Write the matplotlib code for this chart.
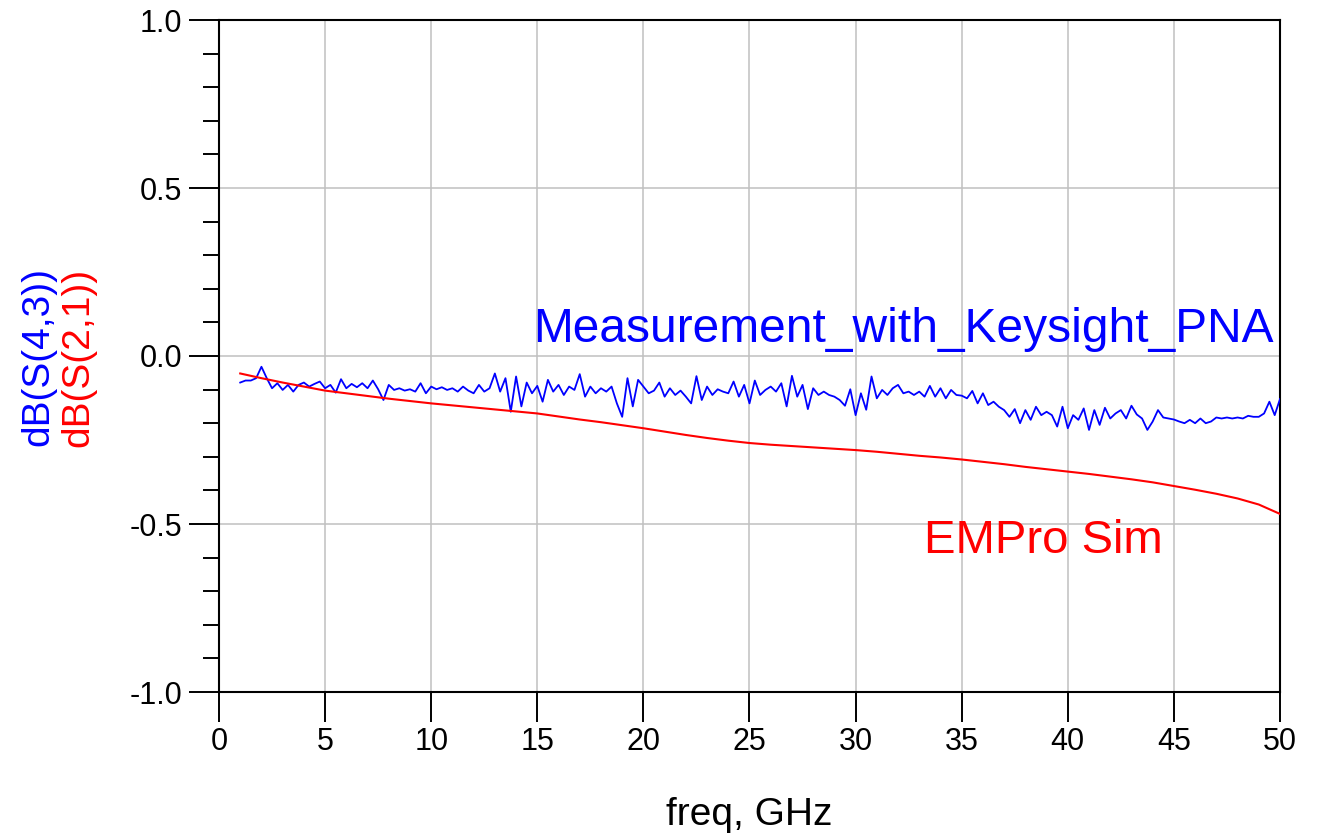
import numpy as np
import matplotlib
matplotlib.use("Agg")
import matplotlib.pyplot as plt
from matplotlib.ticker import MultipleLocator

plt.rcParams['font.family'] = ['Liberation Sans', 'DejaVu Sans']

# measured dB(S(4,3)), 1 .. 50 GHz, 0.25 GHz step
s43_db = [
    -0.079, -0.073, -0.073, -0.066, -0.032, -0.066, -0.096, -0.081,   # 1.0 - 2.75
    -0.101, -0.086, -0.106, -0.086, -0.079, -0.091, -0.083, -0.076,   # 3.0 - 4.75
    -0.096, -0.086, -0.109, -0.069, -0.096, -0.083, -0.093, -0.081,   # 5.0 - 6.75
    -0.096, -0.073, -0.099, -0.131, -0.086, -0.101, -0.096, -0.103,   # 7.0 - 8.75
    -0.099, -0.106, -0.081, -0.111, -0.091, -0.099, -0.093, -0.101,   # 9.0 - 10.75
    -0.096, -0.106, -0.091, -0.103, -0.111, -0.086, -0.106, -0.096,   # 11.0 - 12.75
    -0.052, -0.106, -0.066, -0.166, -0.061, -0.150, -0.079, -0.111,   # 13.0 - 14.75
    -0.089, -0.136, -0.071, -0.106, -0.086, -0.116, -0.091, -0.101,   # 15.0 - 16.75
    -0.054, -0.121, -0.091, -0.111, -0.096, -0.106, -0.091, -0.141,   # 17.0 - 18.75
    -0.181, -0.066, -0.150, -0.071, -0.091, -0.111, -0.103, -0.079,   # 19.0 - 20.75
    -0.121, -0.096, -0.116, -0.103, -0.121, -0.141, -0.060, -0.131,   # 21.0 - 22.75
    -0.091, -0.116, -0.099, -0.106, -0.111, -0.076, -0.121, -0.086,   # 23.0 - 24.75
    -0.141, -0.073, -0.116, -0.101, -0.091, -0.106, -0.081, -0.150,   # 25.0 - 26.75
    -0.059, -0.121, -0.086, -0.158, -0.096, -0.116, -0.106, -0.116,   # 27.0 - 28.75
    -0.121, -0.131, -0.148, -0.099, -0.176, -0.111, -0.160, -0.061,   # 29.0 - 30.75
    -0.126, -0.101, -0.116, -0.096, -0.086, -0.111, -0.106, -0.116,   # 31.0 - 32.75
    -0.106, -0.121, -0.089, -0.121, -0.096, -0.126, -0.101, -0.116,   # 33.0 - 34.75
    -0.118, -0.126, -0.104, -0.141, -0.111, -0.146, -0.136, -0.151,   # 35.0 - 36.75
    -0.161, -0.181, -0.158, -0.200, -0.161, -0.190, -0.151, -0.176,   # 37.0 - 38.75
    -0.166, -0.176, -0.210, -0.151, -0.215, -0.176, -0.190, -0.156,   # 39.0 - 40.75
    -0.220, -0.161, -0.205, -0.154, -0.186, -0.171, -0.161, -0.186,   # 41.0 - 42.75
    -0.148, -0.174, -0.186, -0.220, -0.195, -0.161, -0.183, -0.186,   # 43.0 - 44.75
    -0.189, -0.195, -0.200, -0.190, -0.200, -0.186, -0.200, -0.195,   # 45.0 - 46.75
    -0.183, -0.186, -0.183, -0.186, -0.183, -0.186, -0.178, -0.181,   # 47.0 - 48.75
    -0.181, -0.171, -0.136, -0.176, -0.128,                           # 49.0 - 50.0
]
freq_meas = np.linspace(1.0, 50.0, len(s43_db))

# EMPro simulated dB(S(2,1)), 1 GHz step
freq_sim = list(range(1, 51))
s21_db = [
    -0.052, -0.066, -0.079, -0.091, -0.103, -0.111, -0.119, -0.127, -0.134, -0.141,
    -0.147, -0.153, -0.159, -0.165, -0.171, -0.180, -0.189, -0.197, -0.206, -0.215,
    -0.225, -0.235, -0.244, -0.252, -0.259, -0.264, -0.268, -0.272, -0.276, -0.280,
    -0.285, -0.291, -0.297, -0.302, -0.308, -0.315, -0.322, -0.330, -0.337, -0.344,
    -0.351, -0.359, -0.367, -0.376, -0.387, -0.398, -0.410, -0.424, -0.442, -0.470,
]

W, H = 1319, 834
fig = plt.figure(figsize=(W / 100, H / 100), dpi=100)
ax = fig.add_axes([219 / W, 1 - 692 / H, (1280 - 219) / W, 672 / H])

ax.plot(freq_meas, s43_db, color='#0000ff', lw=1.3, zorder=3)
ax.plot(freq_sim, s21_db, color='#ff0000', lw=1.5, zorder=3)

ax.set_xlim(0, 50)
ax.set_ylim(-1.0, 1.0)
ax.xaxis.set_major_locator(MultipleLocator(5))
ax.yaxis.set_major_locator(MultipleLocator(0.5))
ax.yaxis.set_minor_locator(MultipleLocator(0.1))
ax.yaxis.set_major_formatter(plt.FuncFormatter(lambda v, p: f"{v:.1f}"))

ax.grid(True, which='major', color='#c0c0c0', lw=1.1, zorder=0)
for s in ax.spines.values():
    s.set_color('black')
    s.set_linewidth(1.5)

ax.tick_params(axis='both', which='major', direction='out', length=21.5,
               width=1.4, labelsize=22, colors='black')
ax.tick_params(axis='y', which='minor', direction='out', length=11.5, width=1.4)
ax.tick_params(axis='y', pad=5)
ax.tick_params(axis='x', pad=4)

ax.text(14.8, 0.042, 'Measurement_with_Keysight_PNA', color='#0000ff',
        fontsize=34.5, ha='left', va='baseline')
ax.text(33.2, -0.586, 'EMPro Sim', color='#ff0000',
        fontsize=34, ha='left', va='baseline')

fig.text(38 / W, 1 - 357 / H, 'dB(S(4,3))', color='#0000ff', fontsize=28,
         rotation=90, ha='center', va='center')
fig.text(78 / W, 1 - 357 / H, 'dB(S(2,1))', color='#ff0000', fontsize=28,
         rotation=90, ha='center', va='center')
fig.text(749.5 / W, 9 / H, 'freq, GHz', fontsize=28, ha='center', va='baseline')

fig.savefig('out.png', dpi=100)
